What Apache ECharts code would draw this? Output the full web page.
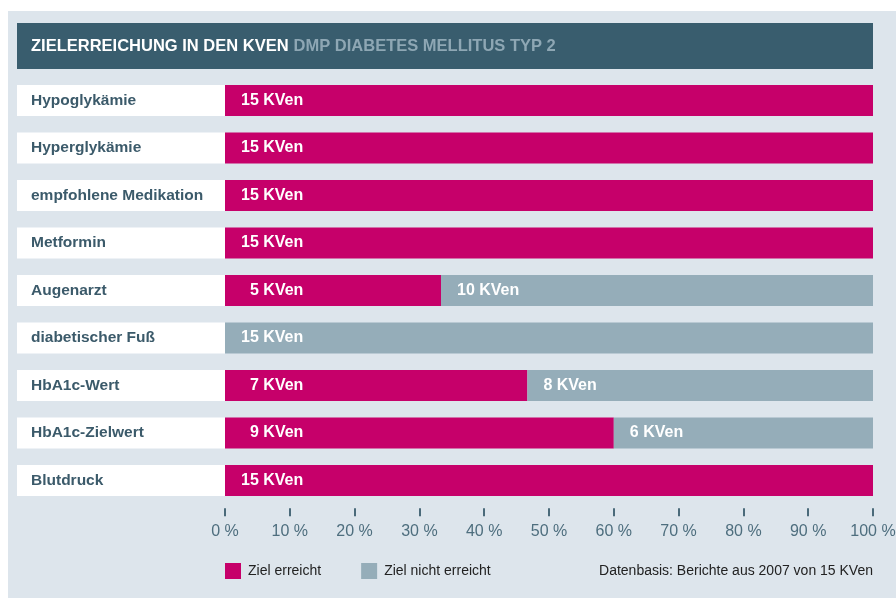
<!DOCTYPE html>
<html>
<head>
<meta charset="utf-8">
<script src="https://cdn.jsdelivr.net/npm/echarts@6/dist/echarts.min.js"></script>
<style>
html,body{margin:0;padding:0;background:#fff;}
#chart{width:896px;height:598px;}
</style>
</head>
<body>
<div id="chart"></div>
<script>
const categories = ['Hypoglykämie','Hyperglykämie','empfohlene Medikation','Metformin','Augenarzt','diabetischer Fuß','HbA1c-Wert','HbA1c-Zielwert','Blutdruck'];
const zielErreicht = [15,15,15,15,5,0,7,9,15];
const zielNichtErreicht = [0,0,0,0,10,15,8,6,0];
const totalKVen = 15;
const xTicks = [0,10,20,30,40,50,60,70,80,90,100];

const FONT = '"Liberation Sans", Arial, sans-serif';
const PINK = '#c6006a';
const GREY = '#95adb9';

function toPct(arr, padSingle){
  return arr.map(v => ({
    value: v / totalKVen * 100,
    count: v,
    label: {distance: (padSingle && v < 10) ? 25 : 16}
  }));
}

const chart = echarts.init(document.getElementById('chart'), null, {renderer:'canvas'});
chart.setOption({
  animation:false,
  textStyle:{fontFamily:FONT},
  graphic:[
    {type:'rect', silent:true, z:-10, shape:{x:8,y:11,width:888,height:587}, style:{fill:'#dde5ec'}},
    {type:'rect', silent:true, z:-9, shape:{x:17,y:23,width:856,height:46}, style:{fill:'#395d6e'}},
    {type:'text', x:873, y:571, style:{text:'Datenbasis: Berichte aus 2007 von 15 KVen', align:'right', verticalAlign:'middle', font:'14px ' + FONT, fill:'#222'}}
  ],
  title:{
    left:31, top:46, textVerticalAlign:'middle',
    text:'{a|ZIELERREICHUNG IN DEN KVEN} {b|DMP DIABETES MELLITUS TYP 2}',
    textStyle:{rich:{
      a:{color:'#ffffff', fontSize:16.5, fontWeight:'bold', fontFamily:FONT},
      b:{color:'#8ea7b4', fontSize:16.5, fontWeight:'bold', fontFamily:FONT}
    }},
    padding:0, itemGap:0
  },
  legend:{
    left:225, top:563, padding:0, icon:'rect', itemWidth:16, itemHeight:16, itemGap:40,
    textStyle:{fontSize:14, color:'#222', fontFamily:FONT, padding:[0,0,0,2]},
    data:['Ziel erreicht','Ziel nicht erreicht']
  },
  grid:{left:225, right:23, top:76.75, bottom:93.75, outerBoundsMode:'none', containLabel:false},
  xAxis:{
    type:'value', min:0, max:100, interval:10, offset:4,
    axisLine:{show:false},
    axisTick:{show:true, length:8, lineStyle:{color:'#4a6a7a', width:2}},
    splitLine:{show:false},
    axisLabel:{
      margin:15, fontSize:16, color:'#4e6e7e', fontFamily:FONT,
      formatter: v => xTicks.includes(v) ? v + ' %' : ''
    }
  },
  yAxis:{
    type:'category', inverse:true, data:categories,
    axisLine:{show:false}, axisTick:{show:false},
    axisLabel:{
      align:'left', margin:208, backgroundColor:'#fff', width:194, height:31, lineHeight:31,
      padding:[0,0,0,14], fontSize:15.5, fontWeight:'bold', color:'#3b5a6a', fontFamily:FONT
    }
  },
  series:[
    {
      name:'Ziel erreicht', type:'bar', stack:'s', barWidth:31, itemStyle:{color:PINK},
      data:toPct(zielErreicht, true),
      label:{
        show:true, position:'insideLeft',
        formatter: p => p.data.count > 0 ? p.data.count + ' KVen' : '',
        color:'#fff', fontSize:16, fontWeight:'bold', fontFamily:FONT
      }
    },
    {
      name:'Ziel nicht erreicht', type:'bar', stack:'s', barWidth:31, itemStyle:{color:GREY},
      data:toPct(zielNichtErreicht, false),
      label:{
        show:true, position:'insideLeft',
        formatter: p => p.data.count > 0 ? p.data.count + ' KVen' : '',
        color:'#fff', fontSize:16, fontWeight:'bold', fontFamily:FONT
      }
    }
  ]
});
</script>
</body>
</html>
